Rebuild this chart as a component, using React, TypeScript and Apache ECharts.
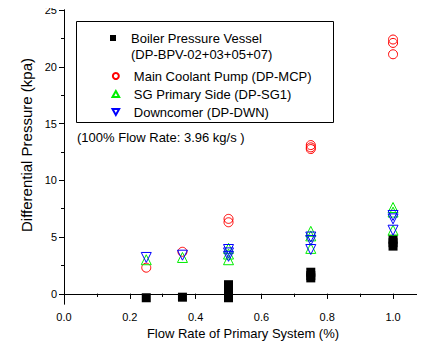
import React, { useEffect, useRef } from "react";
import * as echarts from "echarts";

const bpvX = [0.25, 0.36, 0.5, 0.5, 0.5, 0.5, 0.5, 0.75, 0.75, 0.75, 1.0, 1.0, 1.0];
const bpvY = [-0.35, -0.3, 0.8, 0.5, 0.2, -0.1, -0.35, 1.9, 1.6, 1.4, 4.8, 4.5, 4.2];
const mcpX = [0.25, 0.36, 0.5, 0.5, 0.75, 0.75, 0.75, 1.0, 1.0, 1.0];
const mcpY = [2.3, 3.7, 6.6, 6.3, 13.1, 12.9, 12.75, 22.4, 22.1, 21.1];
const sgX = [0.25, 0.36, 0.5, 0.5, 0.5, 0.75, 0.75, 0.75, 1.0, 1.0, 1.0];
const sgY = [3.0, 3.2, 4.0, 3.5, 3.0, 5.5, 5.1, 4.0, 7.6, 7.2, 5.6];
const dwnX = [0.25, 0.36, 0.5, 0.5, 0.5, 0.75, 0.75, 0.75, 1.0, 1.0, 1.0];
const dwnY = [3.2, 3.4, 3.9, 3.6, 3.3, 5.0, 4.7, 3.9, 6.9, 6.6, 5.6];

const xMajor = [0, 0.2, 0.4, 0.6, 0.8, 1.0];
const xMinor = [0.1, 0.3, 0.5, 0.7, 0.9];
const yMajor = [0, 5, 10, 15, 20, 25];
const yMinor = [2.5, 7.5, 12.5, 17.5, 22.5];

const names = [
  "Boiler Pressure Vessel",
  "Main Coolant Pump (DP-MCP)",
  "SG Primary Side (DP-SG1)",
  "Downcomer (DP-DWN)",
];

const zip = (xs: number[], ys: number[]) => xs.map((x, i) => [x, ys[i]]);

const FONT = "Liberation Sans";

export default function App() {
  const ref = useRef<HTMLDivElement>(null);
  useEffect(() => {
    if (!ref.current) return;
    const chart = echarts.init(ref.current, null, { renderer: "svg" });
    const X_MIN = 0, X_MAX = 1.088, Y_MIN = -0.9, Y_MAX = 25;
    const line = { show: true, lineStyle: { color: "#000", width: 1 } };
    const xBase = { type: "value", min: X_MIN, max: X_MAX, splitLine: { show: false } };
    const yBase = { type: "value", min: Y_MIN, max: Y_MAX, splitLine: { show: false } };
    const legendText = { fontSize: 13, color: "#000", fontFamily: FONT, lineHeight: 18 };
    const legendBase = {
      orient: "vertical",
      left: 105,
      itemWidth: 26,
      itemHeight: 6,
      itemGap: 0,
      selectedMode: false,
    };
    chart.setOption({
      animation: false,
      textStyle: { fontFamily: FONT, color: "#000" },
      grid: { left: 64, right: 3, top: 10, bottom: 52, containLabel: false },
      xAxis: [
        {
          ...xBase,
          position: "bottom",
          axisLine: line,
          axisTick: { show: true, inside: false, length: 5, customValues: xMajor, lineStyle: { color: "#000" } },
          axisLabel: {
            show: true,
            customValues: xMajor,
            formatter: (v: number) => v.toFixed(1),
            fontSize: 11,
            color: "#000",
            margin: 7,
            fontFamily: FONT,
          },
          name: "Flow Rate of Primary System (%)",
          nameLocation: "middle",
          nameGap: 21,
          nameTextStyle: { fontSize: 13, color: "#000", fontFamily: FONT },
        },
        {
          ...xBase,
          position: "bottom",
          axisLine: { show: false },
          axisTick: { show: true, inside: false, length: 3, customValues: xMinor, lineStyle: { color: "#000" } },
          axisLabel: { show: false },
        },
        {
          ...xBase,
          position: "top",
          axisLine: line,
          axisTick: { show: true, inside: true, length: 5, customValues: xMajor, lineStyle: { color: "#000" } },
          axisLabel: { show: false },
        },
        {
          ...xBase,
          position: "top",
          axisLine: { show: false },
          axisTick: { show: true, inside: true, length: 3, customValues: xMinor, lineStyle: { color: "#000" } },
          axisLabel: { show: false },
        },
      ],
      yAxis: [
        {
          ...yBase,
          position: "left",
          axisLine: line,
          axisTick: { show: true, inside: false, length: 5, customValues: yMajor, lineStyle: { color: "#000" } },
          axisLabel: { show: true, customValues: yMajor, fontSize: 11, color: "#000", margin: 7, fontFamily: FONT },
          name: "Differential Pressure (kpa)",
          nameLocation: "middle",
          nameGap: 30,
          nameTextStyle: { fontSize: 15, color: "#000", fontFamily: FONT, padding: [0, 0, 0, 24] },
        },
        {
          ...yBase,
          position: "left",
          axisLine: { show: false },
          axisTick: { show: true, inside: false, length: 3, customValues: yMinor, lineStyle: { color: "#000" } },
          axisLabel: { show: false },
        },
        {
          ...yBase,
          position: "right",
          axisLine: line,
          axisTick: { show: true, inside: true, length: 5, customValues: yMajor, lineStyle: { color: "#000" } },
          axisLabel: { show: false },
        },
        {
          ...yBase,
          position: "right",
          axisLine: { show: false },
          axisTick: { show: true, inside: true, length: 3, customValues: yMinor, lineStyle: { color: "#000" } },
          axisLabel: { show: false },
        },
      ],
      legend: [
        {
          ...legendBase,
          top: 25,
          data: [{ name: names[0], icon: "path://M0,0L10,0L10,10L0,10Z" }],
          textStyle: { ...legendText, lineHeight: 16 },
        },
        {
          ...legendBase,
          top: 62,
          data: [
            { name: names[1], icon: "circle" },
            { name: names[2], icon: "path://M5,0L10,9L0,9Z" },
            { name: names[3], icon: "path://M0,0L10,0L5,9Z" },
          ],
          textStyle: legendText,
        },
      ],
      graphic: [
        {
          type: "rect",
          shape: { x: 76.5, y: 21.5, width: 257, height: 101 },
          style: { fill: "none", stroke: "#000", lineWidth: 1 },
          z: 10,
        },
        {
          type: "text",
          x: 131,
          y: 54,
          style: {
            text: "(DP-BPV-02+03+05+07)",
            fontSize: 13,
            fill: "#000",
            fontFamily: FONT,
            verticalAlign: "middle",
            align: "left",
          },
          z: 10,
        },
        {
          type: "text",
          x: 77,
          y: 137,
          style: {
            text: "(100% Flow Rate: 3.96 kg/s )",
            fontSize: 13,
            fill: "#000",
            fontFamily: FONT,
            verticalAlign: "middle",
            align: "left",
          },
          z: 10,
        },
      ],
      series: [
        {
          name: names[0],
          type: "scatter",
          data: zip(bpvX, bpvY),
          symbol: "rect",
          symbolSize: 9,
          itemStyle: { color: "#000", opacity: 1 },
        },
        {
          name: names[1],
          type: "scatter",
          data: zip(mcpX, mcpY),
          symbol: "circle",
          symbolSize: 9,
          itemStyle: { color: "none", borderColor: "#ff0000", borderWidth: 1, opacity: 1 },
        },
        {
          name: names[2],
          type: "scatter",
          data: zip(sgX, sgY),
          symbol: "triangle",
          symbolSize: 10,
          itemStyle: { color: "none", borderColor: "#00ee00", borderWidth: 1, opacity: 1 },
        },
        {
          name: names[3],
          type: "scatter",
          data: zip(dwnX, dwnY),
          symbol: "triangle",
          symbolRotate: 180,
          symbolSize: 10,
          itemStyle: { color: "none", borderColor: "#0000ff", borderWidth: 1, opacity: 1 },
        },
      ],
    });
    return () => chart.dispose();
  }, []);
  return <div ref={ref} style={{ width: 425, height: 356, margin: -8 }} />;
}
